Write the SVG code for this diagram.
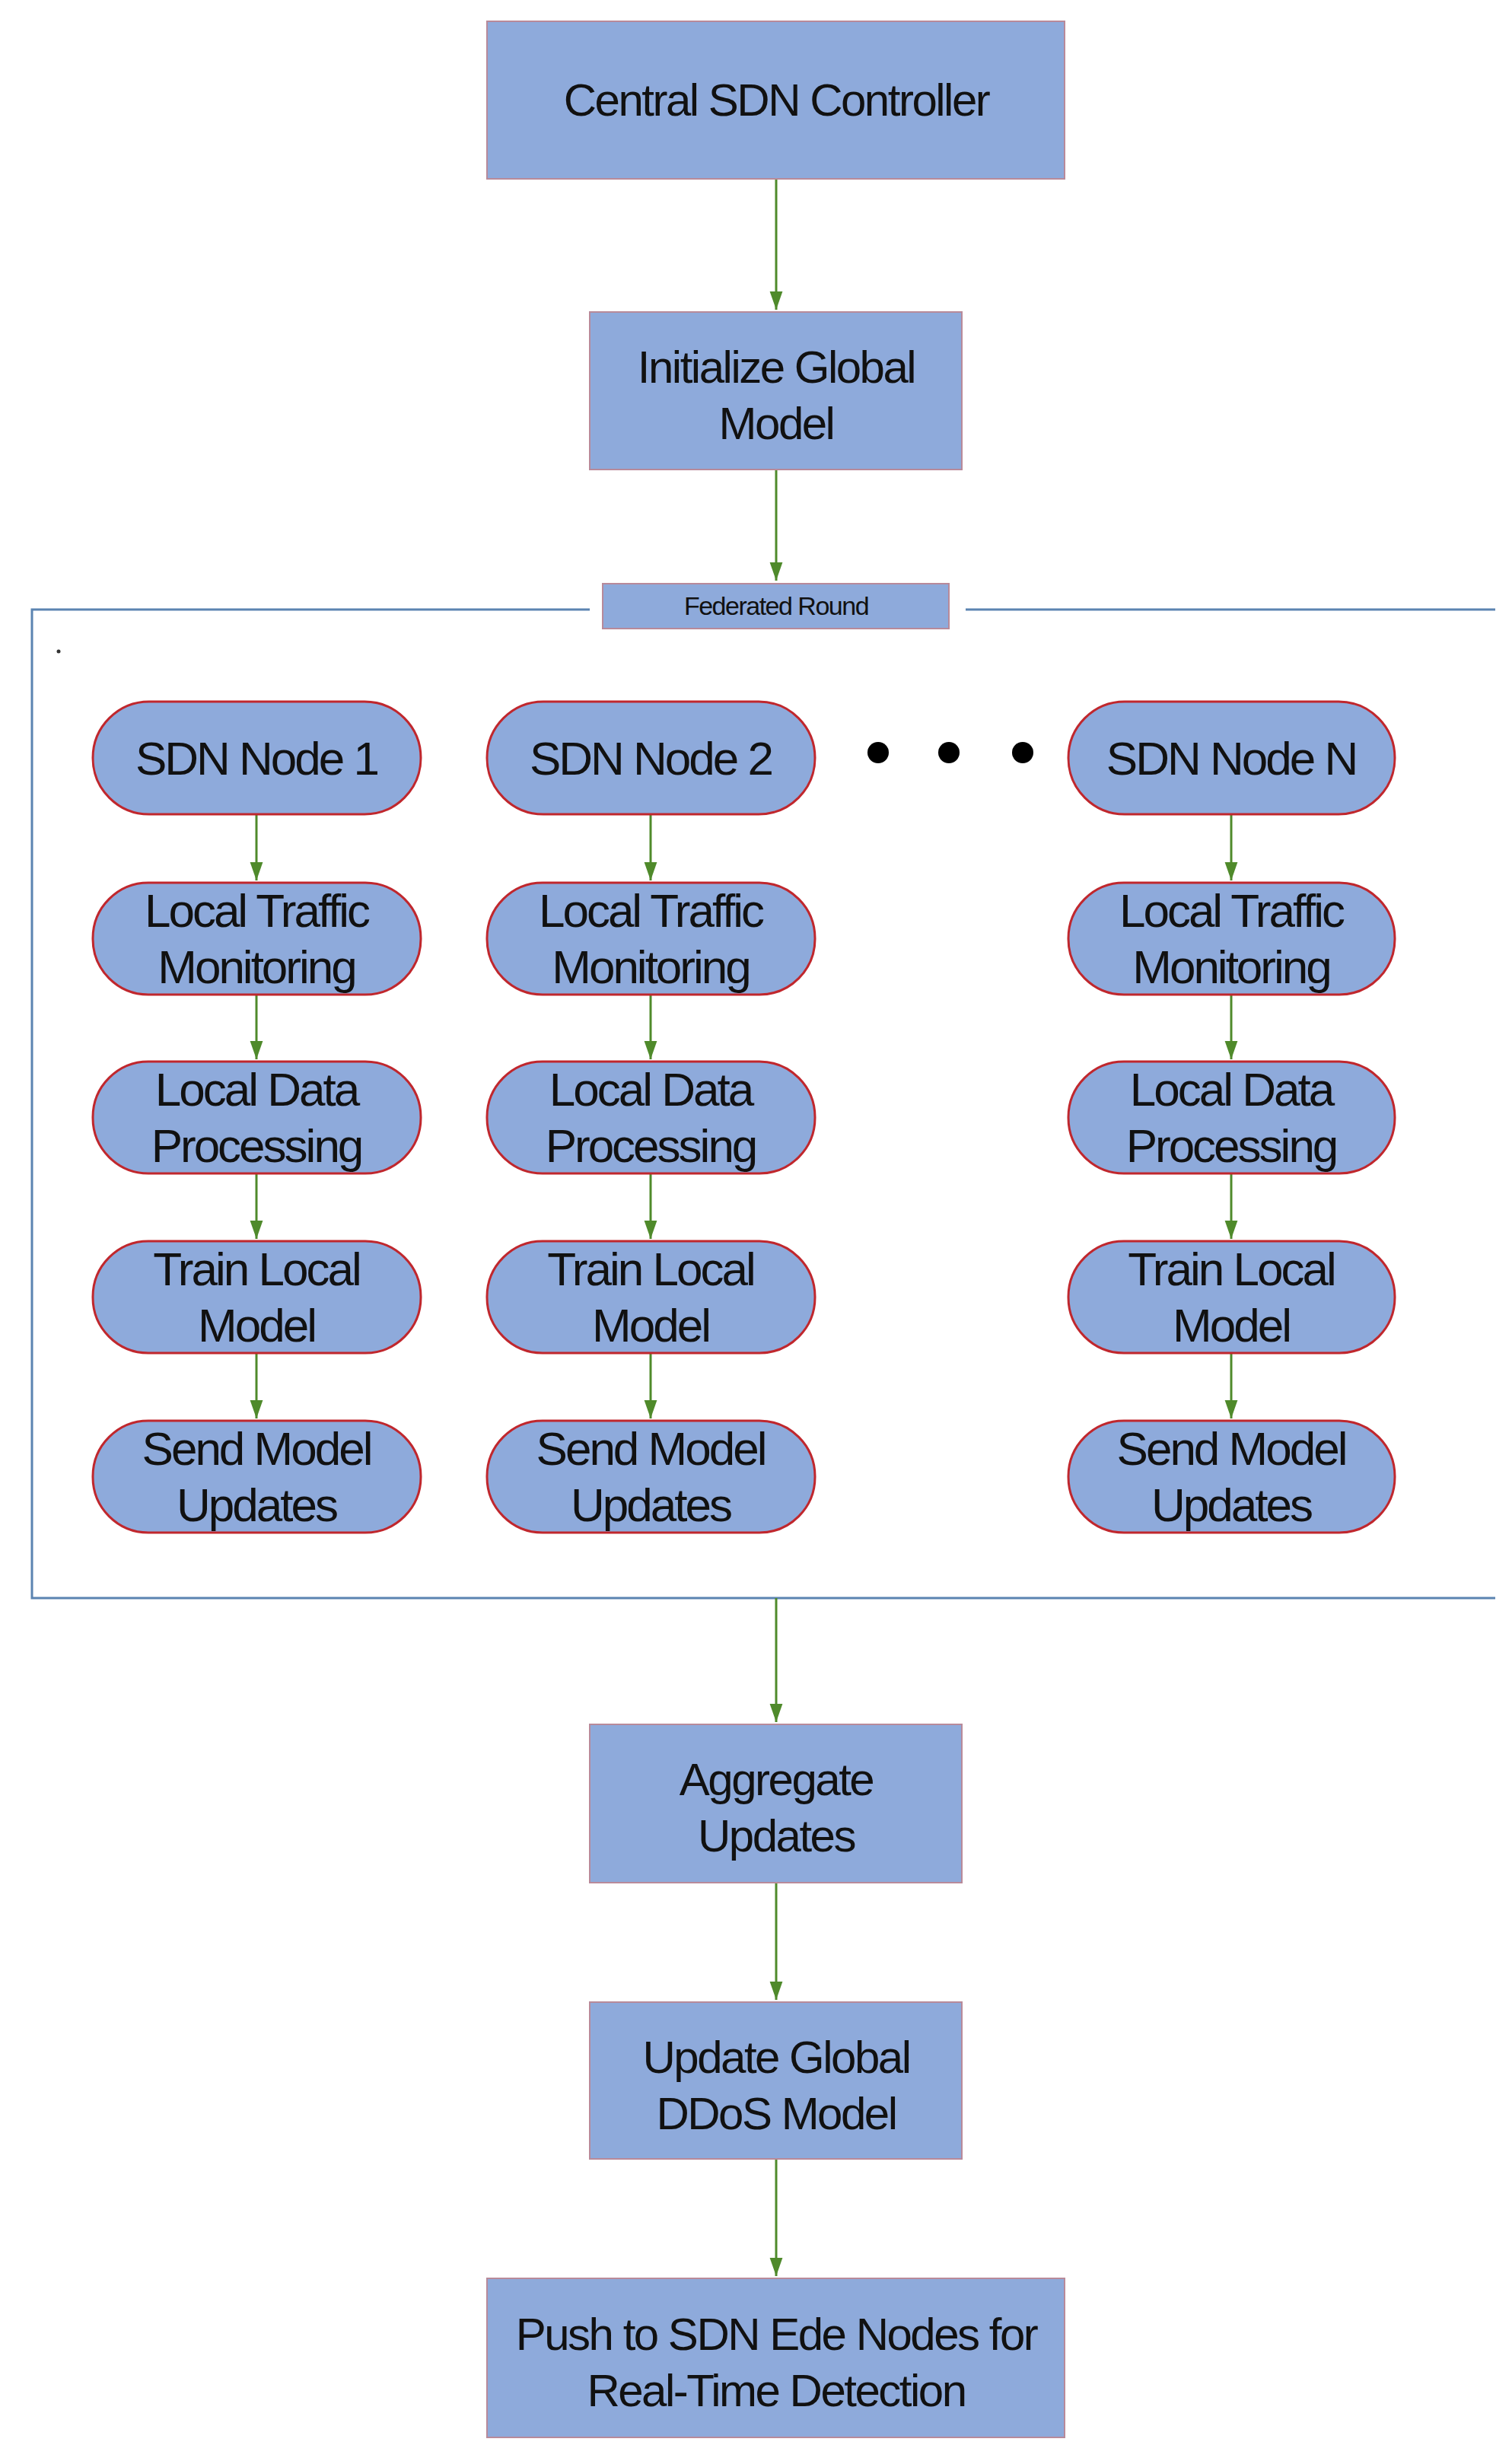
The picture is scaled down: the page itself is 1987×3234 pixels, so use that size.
<svg xmlns="http://www.w3.org/2000/svg" width="1987" height="3234" viewBox="0 0 1987 3234">
<style>
.box{fill:#8eaadb;stroke:#b88a9a;stroke-width:2}
.pill{fill:#8eaadb;stroke:#c0272d;stroke-width:3}
.t{font-family:"Liberation Sans",Arial,sans-serif;font-size:60px;fill:#111;text-anchor:middle;letter-spacing:-2.5px}
.n{font-family:"Liberation Sans",Arial,sans-serif;font-size:62px;fill:#111;text-anchor:middle;letter-spacing:-3px}
.c{stroke:#4f8a2b;stroke-width:3;fill:none;marker-end:url(#ah)}
</style>
<defs>
<marker id="ah" viewBox="0 0 10 10" refX="10" refY="5" markerWidth="8" markerHeight="8" markerUnits="userSpaceOnUse" orient="auto">
<path d="M0,0 L10,5 L0,10 z" fill="#4f8a2b"/>
</marker>
<marker id="ah2" viewBox="0 0 10 10" refX="10" refY="5" markerWidth="24" markerHeight="24" markerUnits="userSpaceOnUse" orient="auto">
<path d="M0,1.5 L10,5 L0,8.5 z" fill="#4f8a2b"/>
</marker>
</defs>
<rect width="1987" height="3234" fill="#fff"/>
<g id="frame">
<path d="M775,801 H42 V2100 H1965 M1269,801 H1965" fill="none" stroke="#5b84b1" stroke-width="3"/>
<circle cx="77" cy="856" r="2.5" fill="#333"/>
</g>
<g id="connectors" style="stroke:#4f8a2b;stroke-width:3;fill:none">
<g marker-end="url(#ah2)">
<path d="M1020,235 V407" marker-end="url(#ah2)"/>
<path d="M1020,617 V763" marker-end="url(#ah2)"/>
<path d="M1020,2100 V2263" marker-end="url(#ah2)"/>
<path d="M1020,2474 V2628" marker-end="url(#ah2)"/>
<path d="M1020,2837 V2991" marker-end="url(#ah2)"/>
<path d="M337,1070 V1157" marker-end="url(#ah2)"/>
<path d="M337,1307 V1392" marker-end="url(#ah2)"/>
<path d="M337,1542 V1628" marker-end="url(#ah2)"/>
<path d="M337,1778 V1864" marker-end="url(#ah2)"/>
<path d="M855,1070 V1157" marker-end="url(#ah2)"/>
<path d="M855,1307 V1392" marker-end="url(#ah2)"/>
<path d="M855,1542 V1628" marker-end="url(#ah2)"/>
<path d="M855,1778 V1864" marker-end="url(#ah2)"/>
<path d="M1618,1070 V1157" marker-end="url(#ah2)"/>
<path d="M1618,1307 V1392" marker-end="url(#ah2)"/>
<path d="M1618,1542 V1628" marker-end="url(#ah2)"/>
<path d="M1618,1778 V1864" marker-end="url(#ah2)"/>
</g>
</g>
<g id="central"><rect class="box" x="640" y="28" width="759" height="207"/><text class="t" x="1020" y="152">Central SDN Controller</text></g>
<g id="init"><rect class="box" x="775" y="410" width="489" height="207"/><text class="t" x="1020" y="503">Initialize Global</text><text class="t" x="1020" y="577">Model</text></g>
<g id="fedround"><rect class="box" x="792" y="767" width="455" height="59"/><text x="1020" y="808" style="font-family:'Liberation Sans',Arial,sans-serif;font-size:34px;fill:#111;text-anchor:middle;letter-spacing:-1.5px">Federated Round</text></g>
<g id="dots" fill="#000"><circle cx="1154" cy="989" r="14"/><circle cx="1247" cy="989" r="14"/><circle cx="1344" cy="989" r="14"/></g>
<g id="sdn1"><rect class="pill" x="122" y="922" width="431" height="148" rx="74"/><text class="n" x="337" y="1018">SDN Node 1</text></g>
<g id="sdn2"><rect class="pill" x="640" y="922" width="431" height="148" rx="74"/><text class="n" x="855" y="1018">SDN Node 2</text></g>
<g id="sdnN"><rect class="pill" x="1404" y="922" width="429" height="148" rx="74"/><text class="n" x="1618" y="1018">SDN Node N</text></g>
<g id="ltm1"><rect class="pill" x="122" y="1160" width="431" height="147" rx="73"/><text class="n" x="337" y="1218">Local Traffic</text><text class="n" x="337" y="1292">Monitoring</text></g>
<g id="ltm2"><rect class="pill" x="640" y="1160" width="431" height="147" rx="73"/><text class="n" x="855" y="1218">Local Traffic</text><text class="n" x="855" y="1292">Monitoring</text></g>
<g id="ltmN"><rect class="pill" x="1404" y="1160" width="429" height="147" rx="73"/><text class="n" x="1618" y="1218">Local Traffic</text><text class="n" x="1618" y="1292">Monitoring</text></g>
<g id="ldp1"><rect class="pill" x="122" y="1395" width="431" height="147" rx="73"/><text class="n" x="337" y="1453">Local Data</text><text class="n" x="337" y="1527">Processing</text></g>
<g id="ldp2"><rect class="pill" x="640" y="1395" width="431" height="147" rx="73"/><text class="n" x="855" y="1453">Local Data</text><text class="n" x="855" y="1527">Processing</text></g>
<g id="ldpN"><rect class="pill" x="1404" y="1395" width="429" height="147" rx="73"/><text class="n" x="1618" y="1453">Local Data</text><text class="n" x="1618" y="1527">Processing</text></g>
<g id="tlm1"><rect class="pill" x="122" y="1631" width="431" height="147" rx="73"/><text class="n" x="337" y="1689">Train Local</text><text class="n" x="337" y="1763">Model</text></g>
<g id="tlm2"><rect class="pill" x="640" y="1631" width="431" height="147" rx="73"/><text class="n" x="855" y="1689">Train Local</text><text class="n" x="855" y="1763">Model</text></g>
<g id="tlmN"><rect class="pill" x="1404" y="1631" width="429" height="147" rx="73"/><text class="n" x="1618" y="1689">Train Local</text><text class="n" x="1618" y="1763">Model</text></g>
<g id="smu1"><rect class="pill" x="122" y="1867" width="431" height="147" rx="73"/><text class="n" x="337" y="1925">Send Model</text><text class="n" x="337" y="1999">Updates</text></g>
<g id="smu2"><rect class="pill" x="640" y="1867" width="431" height="147" rx="73"/><text class="n" x="855" y="1925">Send Model</text><text class="n" x="855" y="1999">Updates</text></g>
<g id="smuN"><rect class="pill" x="1404" y="1867" width="429" height="147" rx="73"/><text class="n" x="1618" y="1925">Send Model</text><text class="n" x="1618" y="1999">Updates</text></g>
<g id="aggregate"><rect class="box" x="775" y="2266" width="489" height="208"/><text class="t" x="1020" y="2359">Aggregate</text><text class="t" x="1020" y="2433">Updates</text></g>
<g id="updateglobal"><rect class="box" x="775" y="2631" width="489" height="206"/><text class="t" x="1020" y="2724">Update Global</text><text class="t" x="1020" y="2798">DDoS Model</text></g>
<g id="push"><rect class="box" x="640" y="2994" width="759" height="209"/><text class="t" x="1020" y="3088">Push to SDN Ede Nodes for</text><text class="t" x="1020" y="3162">Real-Time Detection</text></g>
</svg>
